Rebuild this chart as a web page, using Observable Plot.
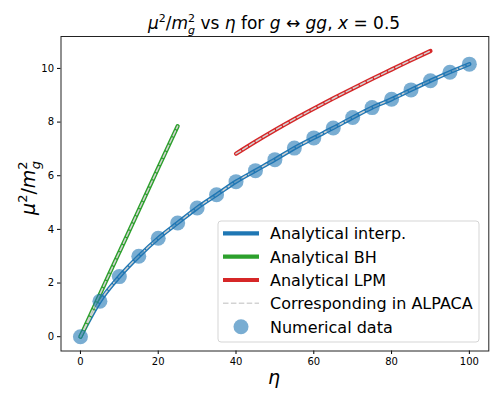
<!DOCTYPE html>
<html>
<head>
<meta charset="utf-8">
<script src="https://cdn.jsdelivr.net/npm/d3@7"></script>
<script src="https://cdn.jsdelivr.net/npm/@observablehq/plot@0.6"></script>
<style>
  html, body { margin: 0; padding: 0; background: white; }
  #chart { width: 498px; height: 398px; }
</style>
</head>
<body>
<div id="chart"></div>
<script>
// Numerical data
const etaNum = [0, 5, 10, 15, 20, 25, 30, 35, 40, 45, 50, 55, 60, 65, 70, 75, 80, 85, 90, 95, 100];
const muNum  = [0, 1.32, 2.24, 3.00, 3.67, 4.24, 4.80, 5.29, 5.78, 6.19, 6.60, 7.03, 7.41, 7.78, 8.17, 8.54, 8.85, 9.20, 9.54, 9.86, 10.16];
// Analytical interpolation (blue)
const etaInterp = etaNum;
const muInterp  = muNum;
// Analytical BH (green)
const etaBH = [0, 5, 10, 15, 20, 25];
const muBH  = [0, 1.58, 3.15, 4.72, 6.29, 7.85];
// Analytical LPM (red)
const etaLPM = [40, 45, 50, 55, 60, 65, 70, 75, 80, 85, 90];
const muLPM  = [6.82, 7.27, 7.70, 8.11, 8.50, 8.88, 9.25, 9.61, 9.96, 10.31, 10.65];

const xTicks = [0, 20, 40, 60, 80, 100];
const yTicks = [0, 2, 4, 6, 8, 10];
const legendLabels = ["Analytical interp.", "Analytical BH", "Analytical LPM", "Corresponding in ALPACA", "Numerical data"];

const toRows = (xs, ys) => xs.map((x, i) => ({x, y: ys[i]}));
const numRows = toRows(etaNum, muNum);
const interpRows = toRows(etaInterp, muInterp);
const bhRows = toRows(etaBH, muBH);
const lpmRows = toRows(etaLPM, muLPM);

const BLUE = "#1f77b4", GREEN = "#2ca02c", RED = "#d62728", GRAY = "#d3d3d3";
const dash = "5.5,2.4";

const plot = Plot.plot({
  width: 498,
  height: 398,
  marginLeft: 60.5,
  marginRight: 9.7,
  marginTop: 36,
  marginBottom: 47.5,
  style: {fontFamily: "DejaVu Sans, sans-serif", fontSize: "10px", color: "black", background: "white"},
  x: {domain: [-5, 105], ticks: xTicks, tickSize: 3.5, tickPadding: 3.5, label: null},
  y: {domain: [-0.533, 11.19], ticks: yTicks, tickSize: 3.5, tickPadding: 3.5, label: null},
  marks: [
    Plot.line(interpRows, {x: "x", y: "y", stroke: BLUE, strokeWidth: 4.2, curve: "monotone-x"}),
    Plot.line(bhRows, {x: "x", y: "y", stroke: GREEN, strokeWidth: 4.2, curve: "monotone-x"}),
    Plot.line(lpmRows, {x: "x", y: "y", stroke: RED, strokeWidth: 4.2, curve: "monotone-x"}),
    Plot.line(interpRows, {x: "x", y: "y", stroke: GRAY, strokeWidth: 1.5, strokeDasharray: dash, curve: "monotone-x"}),
    Plot.line(bhRows, {x: "x", y: "y", stroke: GRAY, strokeWidth: 1.5, strokeDasharray: dash, curve: "monotone-x"}),
    Plot.line(lpmRows, {x: "x", y: "y", stroke: GRAY, strokeWidth: 1.5, strokeDasharray: dash, curve: "monotone-x"}),
    Plot.dot(numRows, {x: "x", y: "y", r: 7.5, fill: BLUE, fillOpacity: 0.6, stroke: "none"}),
    Plot.frame({stroke: "#222", strokeWidth: 1})
  ]
});

document.getElementById("chart").appendChild(plot);

const svg = d3.select(plot);
const font = "DejaVu Sans, sans-serif";

// Title
const title = svg.append("text")
  .attr("x", 274).attr("y", 29)
  .attr("text-anchor", "middle")
  .attr("font-family", font).attr("font-size", 17).attr("fill", "black");
title.append("tspan").attr("font-style", "italic").text("μ");
title.append("tspan").attr("font-size", 11).attr("dy", -7).text("2");
title.append("tspan").attr("dy", 7).text("/");
title.append("tspan").attr("font-style", "italic").text("m");
title.append("tspan").attr("font-size", 11).attr("dy", -7).text("2");
title.append("tspan").attr("font-size", 11).attr("font-style", "italic").attr("dx", -7).attr("dy", 12).text("g");
title.append("tspan").attr("dy", -5).text(" vs ");
title.append("tspan").attr("font-style", "italic").text("η");
title.append("tspan").text(" for ");
title.append("tspan").attr("font-style", "italic").text("g");
title.append("tspan").text(" ↔ ");
title.append("tspan").attr("font-style", "italic").text("gg");
title.append("tspan").text(", ");
title.append("tspan").attr("font-style", "italic").text("x");
title.append("tspan").text(" = 0.5");

// X label
svg.append("text")
  .attr("x", 274).attr("y", 384)
  .attr("text-anchor", "middle")
  .attr("font-family", font).attr("font-size", 19).attr("font-style", "italic").attr("fill", "black")
  .text("η");

// Y label
const ylab = svg.append("text")
  .attr("transform", "translate(35,188) rotate(-90)")
  .attr("text-anchor", "middle")
  .attr("font-family", font).attr("font-size", 19).attr("fill", "black");
ylab.append("tspan").attr("font-style", "italic").text("μ");
ylab.append("tspan").attr("font-size", 13).attr("dy", -8).text("2");
ylab.append("tspan").attr("dy", 8).text("/");
ylab.append("tspan").attr("font-style", "italic").text("m");
ylab.append("tspan").attr("font-size", 13).attr("dy", -8).text("2");
ylab.append("tspan").attr("font-size", 13).attr("font-style", "italic").attr("dx", -8).attr("dy", 13).text("g");

// Legend
const lg = svg.append("g").attr("text-anchor", "start");
lg.append("rect")
  .attr("x", 218).attr("y", 221).attr("width", 261).attr("height", 121).attr("rx", 3)
  .attr("fill", "white").attr("fill-opacity", 0.8).attr("stroke", "#d5d5d5");
const rowY = [233.3, 256.7, 280, 303.3, 326.7];
const handles = [
  {stroke: BLUE, w: 4.2},
  {stroke: GREEN, w: 4.2},
  {stroke: RED, w: 4.2},
  {stroke: GRAY, w: 1.5, dash: dash},
  {dot: true}
];
handles.forEach((h, i) => {
  const y = rowY[i];
  if (h.dot) {
    lg.append("circle").attr("cx", 241).attr("cy", y).attr("r", 7.5).attr("fill", BLUE).attr("fill-opacity", 0.6);
  } else {
    const l = lg.append("line").attr("x1", 223).attr("x2", 259).attr("y1", y).attr("y2", y)
      .attr("stroke", h.stroke).attr("stroke-width", h.w);
    if (h.dash) l.attr("stroke-dasharray", h.dash);
  }
  lg.append("text").attr("x", 270).attr("y", y + 6)
    .attr("text-anchor", "start")
    .attr("font-family", font).attr("font-size", 16).attr("fill", "black")
    .text(legendLabels[i]);
});
</script>
</body>
</html>
